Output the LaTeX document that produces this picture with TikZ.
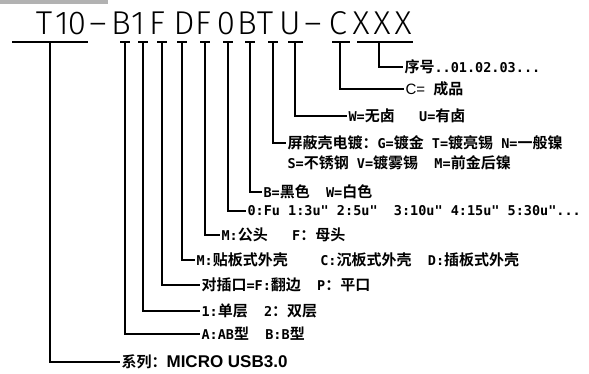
\documentclass[tikz,border=0pt]{standalone}
\usepackage{fontspec}
\setmainfont{Liberation Sans}
\newfontfamily\cadfont{Fira Sans Light}
\newfontfamily\cjk{Noto Sans CJK SC Black}
\newfontfamily\monob{DejaVu Sans Mono}
\newcommand\zh[1]{{\cjk\fontsize{15}{18}\selectfont #1}}
\usetikzlibrary{positioning}

\begin{document}
\begin{tikzpicture}[x=1pt,y=-1pt,line width=1.2pt]
  \tikzstyle{every node}=[inner sep=1pt]
  \tikzstyle{code}=[anchor=base,inner sep=0pt,font=\cadfont\fontsize{33}{36}\selectfont]
  \tikzstyle{lbl}=[anchor=west,font=\monob\bfseries\fontsize{13.5}{16}\selectfont]
  \useasboundingbox (0,0) rectangle (589,373);
  \fill[black!30] (0,0) rectangle (108,4);
  % part number
  \foreach \ch/\cx [count=\i] in {T/44,1/62,0/77,{\textendash}/98,B/121,1/138,F/157,D/184,F/203,0/226,B/247,T/265,U/290,{\textendash}/313,C/338,X/361,X/382,X/403}
    \node[code] (c\i) at (\cx,34) {\ch};
  % ticks under the letters
  \foreach \n/\vx/\wl/\wr in {sr/50/38/38,ab/125/5/5,one/143/5/5,fp/162/5/5,md/182/5/5,mf/205/5/5,au/228/5/5,bw/250/5/5,pl/273/5/5,wu/295/7/8,fin/340/8/10,xxx/379/22/34}{
    \coordinate (t\n) at (\vx,42);
    \draw ([xshift=-\wl pt]t\n) -- ([xshift=\wr pt]t\n);
  }
  % labels
  \node[lbl] (lxxx) at (403,67) {\zh{序号}..01.02.03...};
  \node[lbl] (lfin) at (404,89) {{\rmfamily\mdseries\fontsize{15}{18}\selectfont C=} \zh{成品}};
  \node[lbl] (lwu) at (347,116) {W=\zh{无卤}\ \ \ U=\zh{有卤}};
  \node[lbl] (lpl) at (286,143) {\zh{屏蔽壳电镀：}G=\zh{镀金} T=\zh{镀亮锡} N=\zh{一般镍}};
  \node[lbl] (lpl2) at (286,163) {S=\zh{不锈钢} V=\zh{镀雾锡}\ \ M=\zh{前金后镍}};
  \node[lbl] (lbw) at (262,192) {B=\zh{黑色}\ \ W=\zh{白色}};
  \node[lbl] (lau) at (246,211) {0:Fu 1:3u" 2:5u"\ \ 3:10u" 4:15u" 5:30u"...};
  \node[lbl] (lmf) at (220,235) {M:\zh{公头}\ \ \ F\zh{：母头}};
  \node[lbl] (lmd) at (195,260) {M:\zh{贴板式外壳}\ \ \ \ C:\zh{沉板式外壳}\ \ D:\zh{插板式外壳}};
  \node[lbl] (lfp) at (200,285) {\zh{对插口}=F:\zh{翻边}\ \ P\zh{：平口}};
  \node[lbl] (lone) at (200,311) {1:\zh{单层}\ \ 2\zh{：双层}};
  \node[lbl] (lab) at (200,334) {A:AB\zh{型}\ \ B:B\zh{型}};
  \node[lbl] (lsr) at (120,362) {\zh{系列：}{\rmfamily\bfseries\fontsize{17}{20}\selectfont MICRO USB3.0}};
  % leaders
  \foreach \n in {xxx,fin,wu,pl,bw,au,mf,md,fp,one,ab,sr}
    \draw (t\n) |- (l\n.west);
\end{tikzpicture}
\end{document}
